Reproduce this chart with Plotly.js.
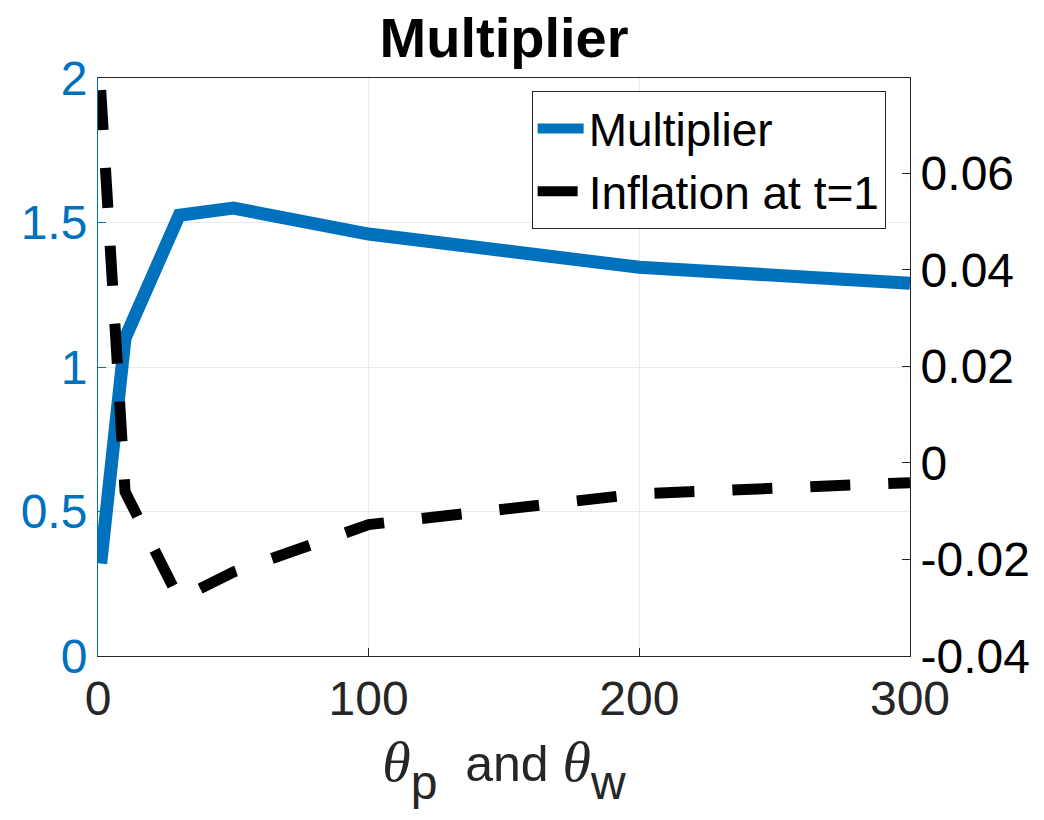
<!DOCTYPE html>
<html>
<head>
<meta charset="utf-8">
<script src="https://cdn.plot.ly/plotly-3.0.1.min.js"></script>
<style>html,body{margin:0;padding:0;background:#fff;}#chart{width:1044px;height:820px;}</style>
</head>
<body>
<div id="chart"></div>
<script>
// theta_p and theta_w values
const theta = [1, 10, 30, 50, 100, 200, 300];
// Multiplier (left axis)
const multiplier = [0.32, 1.10, 1.525, 1.55, 1.46, 1.345, 1.29];
// Inflation at t=1 (right axis)
const inflation = [0.0772, -0.006, -0.0282, -0.0226, -0.0128, -0.0064, -0.0041];

const leftTicks = [0, 0.5, 1, 1.5, 2];
const leftTickText = ['0', '0.5', '1', '1.5', '2'];
const rightTicks = [-0.04, -0.02, 0, 0.02, 0.04, 0.06];
const rightTickText = ['-0.04', '-0.02', '0', '0.02', '0.04', '0.06'];
const xTicks = [0, 100, 200, 300];

const font = 'Liberation Sans, Arial, Helvetica, sans-serif';
const blue = '#0072BD';
const dark = '#262626';

const traces = [
  {
    x: theta, y: multiplier, name: 'Multiplier', type: 'scatter', mode: 'lines',
    line: {color: blue, width: 13}, yaxis: 'y'
  },
  {
    x: theta, y: inflation, name: 'Inflation at t=1', type: 'scatter', mode: 'lines',
    line: {color: '#000000', width: 11, dash: '40px,38px'}, yaxis: 'y2'
  }
];

const th = '<span style="font-family:Liberation Serif, Times New Roman, serif;font-style:italic;font-size:58px">θ</span>';
const xTitle = th + '<sub><sub><span style="font-size:48px">p</span></sub></sub>  and ' + th + '<sub><sub><span style="font-size:48px">w</span></sub></sub>';

const layout = {
  width: 1044, height: 820,
  paper_bgcolor: '#ffffff', plot_bgcolor: '#ffffff',
  margin: {l: 98, r: 134, t: 78, b: 164},
  font: {family: font, color: dark},
  title: {
    text: '<b>Multiplier</b>', x: 0.4828, xanchor: 'center', y: 0.955, yanchor: 'middle',
    font: {family: font, size: 56, color: '#000000'}
  },
  showlegend: true,
  legend: {
    x: 0.970, xanchor: 'right', y: 0.9775, yanchor: 'top',
    bgcolor: '#ffffff', bordercolor: dark, borderwidth: 1,
    font: {family: font, size: 46, color: '#000000'},
    itemwidth: 46, tracegroupgap: 0
  },
  xaxis: {
    range: [0, 300], tickvals: xTicks, ticktext: xTicks.map(String),
    ticks: 'inside', ticklen: 8, tickcolor: dark,
    showline: true, linecolor: dark, linewidth: 1, mirror: true,
    showgrid: true, gridcolor: '#e6ebf0', gridwidth: 1, zeroline: false,
    tickfont: {family: font, size: 48, color: dark},
    title: {
      text: xTitle,
      font: {family: font, size: 50, color: dark}, standoff: 22
    }
  },
  yaxis: {
    range: [0, 2], tickvals: leftTicks, ticktext: leftTickText,
    ticks: 'inside', ticklen: 8, tickcolor: blue,
    showline: true, linecolor: blue, linewidth: 1,
    showgrid: true, gridcolor: '#e6ebf0', gridwidth: 1, zeroline: false,
    tickfont: {family: font, size: 48, color: blue}
  },
  yaxis2: {
    overlaying: 'y', side: 'right',
    range: [-0.04, 0.0797], tickvals: rightTicks, ticktext: rightTickText,
    ticks: 'inside', ticklen: 8, tickcolor: dark,
    showline: true, linecolor: dark, linewidth: 1,
    showgrid: false, zeroline: false,
    tickfont: {family: font, size: 48, color: '#000000'}
  }
};

Plotly.newPlot('chart', traces, layout, {displayModeBar: false, staticPlot: true});
</script>
</body>
</html>
